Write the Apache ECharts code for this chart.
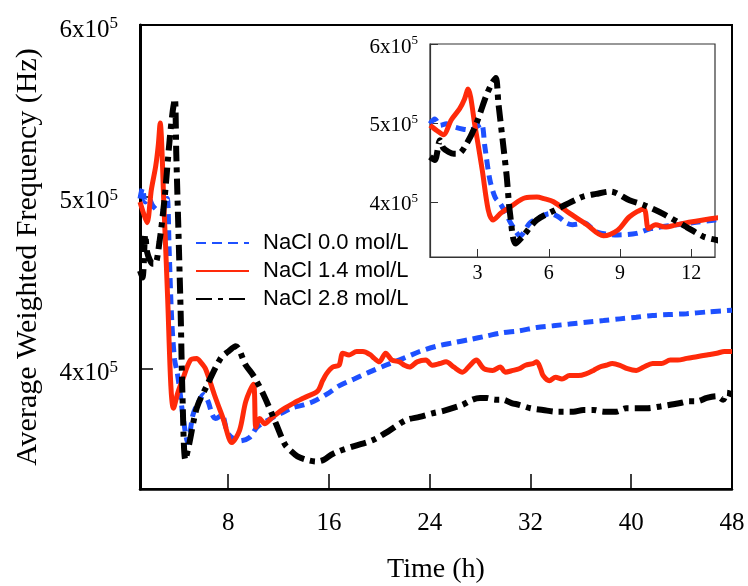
<!DOCTYPE html>
<html>
<head>
<meta charset="utf-8">
<script src="https://cdn.jsdelivr.net/npm/echarts@6/dist/echarts.min.js"></script>
<style>
html, body { margin: 0; padding: 0; background: #fff; }
#main { width: 748px; height: 586px; }
</style>
</head>
<body>
<div id="main"></div>
<script>
// series names
const names = ['NaCl 0.0 mol/L', 'NaCl 1.4 mol/L', 'NaCl 2.8 mol/L']

// time (h) / frequency (x10^5 Hz)
const t00 = [1.0, 1.2, 1.42, 1.7, 2.0, 2.4, 2.7, 3.0, 3.17, 3.31, 3.52, 3.75, 3.95, 4.2, 4.4, 4.8, 5.2, 5.6, 6.05, 6.4, 6.75, 7.0, 7.5, 8.0, 8.9, 9.7, 10.3, 11.4, 12.2, 13.0, 14.0, 14.8, 16.0, 16.8, 18.0, 19.2, 20.5, 21.9, 23.2, 24.5, 25.8, 27.2, 28.5, 29.8, 31.1, 32.5, 33.8, 35.1, 36.4, 37.8, 39.1, 40.4, 41.7, 43.0, 44.4, 46.0, 48.0]
const v00 = [4.99, 5.05, 4.97, 4.99, 4.95, 4.92, 4.91, 4.96, 4.99, 4.70, 4.28, 4.05, 3.98, 3.85, 3.73, 3.57, 3.73, 3.80, 3.85, 3.81, 3.73, 3.71, 3.73, 3.62, 3.58, 3.60, 3.66, 3.71, 3.74, 3.77, 3.79, 3.81, 3.86, 3.90, 3.94, 3.98, 4.02, 4.06, 4.10, 4.13, 4.15, 4.17, 4.19, 4.21, 4.22, 4.24, 4.25, 4.26, 4.27, 4.28, 4.29, 4.30, 4.31, 4.315, 4.32, 4.33, 4.34]

const t14 = [1.0, 1.3, 1.56, 1.9, 2.25, 2.45, 2.6, 2.9, 3.2, 3.45, 3.65, 4.0, 4.4, 5.0, 5.5, 5.8, 6.2, 6.9, 7.6, 8.3, 8.9, 9.4, 10.0, 10.2, 10.5, 10.9, 11.4, 11.9, 12.5, 13.2, 14.0, 15.1, 15.5, 15.8, 16.3, 16.8, 17.1, 17.6, 18.2, 18.7, 19.3, 19.6, 20.0, 20.5, 21.0, 21.6, 22.0, 22.4, 23.0, 23.7, 24.2, 24.8, 25.3, 25.9, 26.6, 27.2, 27.7, 28.3, 29.0, 29.6, 30.0, 30.6, 31.1, 31.6, 32.2, 32.5, 32.8, 33.0, 33.5, 34.0, 34.5, 35.1, 35.8, 36.4, 37.0, 37.5, 38.0, 38.5, 39.1, 39.7, 40.4, 41.0, 41.7, 42.4, 43.1, 43.7, 44.4, 45.2, 46.0, 46.8, 47.4, 48.0]
const v14 = [4.97, 4.90, 4.85, 5.04, 5.18, 5.30, 5.43, 4.95, 4.40, 3.90, 3.77, 3.86, 3.94, 4.05, 4.06, 4.04, 4.00, 3.85, 3.71, 3.57, 3.64, 3.81, 3.91, 3.66, 3.71, 3.68, 3.71, 3.74, 3.77, 3.80, 3.83, 3.87, 3.93, 3.97, 4.01, 4.02, 4.09, 4.08, 4.10, 4.10, 4.08, 4.06, 4.04, 4.09, 4.05, 4.04, 4.02, 4.01, 4.04, 4.05, 4.02, 4.03, 4.04, 4.01, 3.98, 4.02, 4.05, 4.00, 3.99, 4.01, 3.98, 3.99, 4.00, 4.02, 4.03, 4.04, 4.00, 3.96, 3.93, 3.95, 3.94, 3.96, 3.96, 3.97, 3.99, 4.01, 4.02, 4.03, 4.02, 4.00, 3.99, 4.01, 4.03, 4.03, 4.05, 4.05, 4.06, 4.07, 4.08, 4.09, 4.10, 4.10]

const t28 = [1.0, 1.2, 1.42, 1.56, 1.8, 2.0, 2.2, 2.55, 2.95, 3.35, 3.6, 3.77, 3.88, 4.09, 4.23, 4.37, 4.6, 4.9, 5.5, 6.3, 7.4, 8.0, 8.6, 9.4, 10.0, 10.8, 11.8, 12.5, 13.0, 13.5, 14.2, 15.0, 15.6, 16.2, 16.8, 18.0, 19.5, 20.8, 22.1, 23.2, 24.2, 25.1, 25.8, 26.6, 27.4, 28.0, 28.5, 29.2, 29.8, 30.5, 31.1, 32.0, 33.0, 34.0, 34.6, 35.4, 36.2, 37.0, 37.8, 38.8, 39.6, 40.4, 41.3, 42.3, 43.1, 43.9, 44.6, 45.2, 46.0, 46.8, 47.3, 47.6, 48.0]
const v28 = [4.57, 4.53, 4.78, 4.68, 4.63, 4.61, 4.61, 4.74, 4.99, 5.33, 5.50, 5.57, 5.25, 4.70, 4.32, 3.85, 3.47, 3.56, 3.77, 3.90, 4.06, 4.10, 4.13, 4.02, 3.96, 3.85, 3.68, 3.56, 3.52, 3.49, 3.47, 3.46, 3.47, 3.50, 3.52, 3.55, 3.585, 3.64, 3.70, 3.72, 3.74, 3.755, 3.77, 3.79, 3.82, 3.83, 3.83, 3.82, 3.82, 3.80, 3.79, 3.77, 3.76, 3.75, 3.75, 3.75, 3.76, 3.76, 3.75, 3.75, 3.77, 3.77, 3.77, 3.78, 3.79, 3.80, 3.81, 3.81, 3.83, 3.84, 3.82, 3.86, 3.85]

// tick labels
const mainXTicks = [8, 16, 24, 32, 40, 48]
const insetXTicks = [3, 6, 9, 12]
const yTicks = [4, 5, 6]

const serif = 'Liberation Serif'
let myChart = echarts.init(document.getElementById('main'))

function pairs(t, v) {
  return t.map((x, i) => [x, v[i]])
}

//線條樣式
const looks = [
  { color: '#1e50ff', width: 5, type: [10, 6] },
  { color: '#ff2a0a', width: 5, type: 'solid' },
  { color: '#000000', width: 6, type: [16, 6, 5, 6] },
]
const data = [pairs(t00, v00), pairs(t14, v14), pairs(t28, v28)]

function yLabel(size, sup) {
  return {
    customValues: yTicks,
    formatter: (v) => '{b|' + v + 'x10}{s|5}',
    rich: {
      b: { fontFamily: serif, fontSize: size, color: '#000', lineHeight: size + 4 },
      s: { fontFamily: serif, fontSize: sup, color: '#000', verticalAlign: 'top', lineHeight: sup },
    },
  }
}

let series = []
data.forEach((d, i) => {
  series.push({
    name: names[i], type: 'line', data: d, xAxisIndex: 0, yAxisIndex: 0,
    symbol: 'none', smooth: 0.3, lineStyle: looks[i],
    itemStyle: { color: looks[i].color, opacity: 0 }, z: 3 + i,
  })
})
data.forEach((d, i) => {
  series.push({
    name: names[i], type: 'line', data: d, xAxisIndex: 1, yAxisIndex: 1,
    symbol: 'none', smooth: 0.3, clip: true, lineStyle: looks[i],
    itemStyle: { color: looks[i].color, opacity: 0 }, z: 13 + i,
  })
})

myChart.setOption({
  animation: false,
  backgroundColor: '#fff',
  grid: [
    { left: 140, top: 25, right: 16, bottom: 97, show: true, borderColor: '#000', borderWidth: 2, outerBoundsMode: 'none' },
    { left: 430, top: 44, width: 285, height: 213, show: true, borderColor: '#333', borderWidth: 1.2, backgroundColor: '#fff', z: 10, outerBoundsMode: 'none' },
  ],
  legend: {
    data: names, orient: 'vertical', left: 195, top: 232, padding: 0,
    itemWidth: 53, itemHeight: 14, itemGap: 6,
    itemStyle: { opacity: 0 },
    textStyle: { fontFamily: 'Liberation Sans', fontSize: 22, color: '#000', padding: [0, 0, 0, 9] },
  },
  xAxis: [
    {
      type: 'value', gridIndex: 0, min: 1, max: 48,
      name: 'Time (h)', nameLocation: 'middle', nameGap: 67,
      nameTextStyle: { fontFamily: serif, fontSize: 28, color: '#000' },
      axisLine: { lineStyle: { color: '#000', width: 2.5 } },
      axisTick: { inside: true, length: 15, customValues: mainXTicks, lineStyle: { color: '#000', width: 1.5 } },
      axisLabel: { customValues: mainXTicks, margin: 22, fontFamily: serif, fontSize: 25, color: '#000' },
      splitLine: { show: false },
    },
    {
      type: 'value', gridIndex: 1, min: 1, max: 13, z: 10,
      axisLine: { lineStyle: { color: '#333', width: 1.2 } },
      axisTick: { inside: true, length: 8, customValues: insetXTicks, lineStyle: { color: '#333', width: 1 } },
      axisLabel: { customValues: insetXTicks, margin: 7, fontFamily: serif, fontSize: 20, color: '#000' },
      splitLine: { show: false },
    },
  ],
  yAxis: [
    {
      type: 'value', gridIndex: 0, min: 3.3, max: 6,
      name: 'Average Weighted Frequency (Hz)', nameLocation: 'middle', nameGap: 97, nameRotate: 90,
      nameTextStyle: { fontFamily: serif, fontSize: 30, color: '#000' },
      axisLine: { lineStyle: { color: '#000', width: 3 } },
      axisTick: { inside: true, length: 13, customValues: yTicks, lineStyle: { color: '#000', width: 1.5 } },
      axisLabel: Object.assign({ margin: 22, padding: [10, 0, 0, 0] }, yLabel(25, 17)),
      splitLine: { show: false },
    },
    {
      type: 'value', gridIndex: 1, min: 3.3, max: 6, z: 10,
      axisLine: { lineStyle: { color: '#333', width: 1.2 } },
      axisTick: { inside: true, length: 8, customValues: yTicks, lineStyle: { color: '#333', width: 1 } },
      axisLabel: Object.assign({ margin: 12, padding: [6, 0, 0, 0] }, yLabel(21, 13)),
      splitLine: { show: false },
    },
  ],
  series: series,
})
</script>
</body>
</html>
